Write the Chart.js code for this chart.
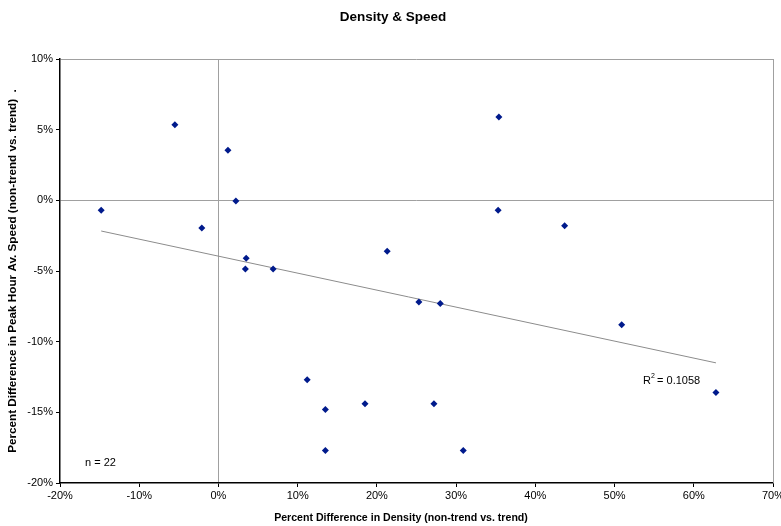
<!DOCTYPE html>
<html>
<head>
<meta charset="utf-8">
<script src="https://cdn.jsdelivr.net/npm/chart.js@4"></script>
<style>
  html, body { margin: 0; padding: 0; background: #fff; }
  #wrap { width: 781px; height: 526px; }
</style>
</head>
<body>
<div id="wrap"><canvas id="chartDensity" width="781" height="526"></canvas></div>
<script>
// Density & Speed scatter

// percent difference in density (x) and peak hour speed (y)
const densityPct = [-14.8, -5.5, 1.2, 2.2, -2.1, 3.5, 3.4, 6.9, 21.3, 35.4, 35.3, 43.7,
    25.3, 28.0, 50.9, 11.2, 13.5, 18.5, 27.2, 13.5, 30.9, 62.8];
const speedPct = [-0.7, 5.35, 3.55, -0.05, -1.95, -4.1, -4.85, -4.85, -3.6, 5.9, -0.7, -1.8,
    -7.2, -7.3, -8.8, -12.7, -14.8, -14.4, -14.4, -17.7, -17.7, -13.6];

// linear trend end points
const trendX = [-14.8, 62.8];
const trendY = [-2.17, -11.5];

const xTicks = [-20, -10, 0, 10, 20, 30, 40, 50, 60, 70];
const yTicks = [-20, -15, -10, -5, 0, 5, 10];

const fontFamily = "'Liberation Sans', Arial, sans-serif";

const points = densityPct.map((x, i) => ({ x: x, y: speedPct[i] }));
const trend = trendX.map((x, i) => ({ x: x, y: trendY[i] }));

const extras = {
    id: "extras",
    afterDraw(chart) {
        const ctx = chart.ctx;
        ctx.save();
        ctx.fillStyle = "#000";
        ctx.textBaseline = "middle";
        ctx.textAlign = "center";
        ctx.font = "bold 13.5px " + fontFamily;
        ctx.fillText("Density & Speed", 393, 17);

        ctx.font = "bold 10.6px " + fontFamily;
        ctx.fillText("Percent Difference in Density (non-trend vs. trend)", 401, 518);

        ctx.font = "11px " + fontFamily;
        ctx.textAlign = "left";
        ctx.fillText("n = 22", 85, 463);
        ctx.fillText("R", 643, 381);
        ctx.font = "7px " + fontFamily;
        ctx.fillText("2", 651, 376);
        ctx.font = "11px " + fontFamily;
        ctx.fillText(" = 0.1058", 654, 381);
        ctx.restore();
    },
};

// right border line of the plot area
const rightEdge = {
    id: "rightEdge",
    beforeDatasetsDraw(chart) {
        const a = chart.chartArea;
        const ctx = chart.ctx;
        ctx.save();
        ctx.strokeStyle = "#a0a0a0";
        ctx.lineWidth = 1;
        ctx.beginPath();
        ctx.moveTo(Math.round(a.right) + 0.5, a.top);
        ctx.lineTo(Math.round(a.right) + 0.5, a.bottom);
        ctx.stroke();
        ctx.restore();
    },
};

const lineColor = (ctx, maxVal) => {
    const v = ctx.tick ? ctx.tick.value : null;
    if (v === 0 || v === maxVal) return "#a0a0a0";
    return "rgba(0,0,0,0)";
};

const config = {
    type: "scatter",
    data: {
        datasets: [
            {
                label: "Density & Speed",
                data: points,
                pointStyle: "rectRot",
                pointRadius: 3.5,
                pointHoverRadius: 3.5,
                backgroundColor: "#001a8c",
                borderColor: "#001a8c",
                borderWidth: 0,
            },
            {
                label: "Trend",
                type: "line",
                data: trend,
                borderColor: "#8c8c8c",
                borderWidth: 1,
                pointRadius: 0,
                fill: false,
            },
        ],
    },
    options: {
        responsive: false,
        animation: false,
        devicePixelRatio: 1,
        layout: { padding: { top: 59, left: 0, right: 8, bottom: 0 } },
        plugins: {
            legend: { display: false },
            tooltip: { enabled: false },
        },
        scales: {
            x: {
                type: "linear",
                min: -20,
                max: 70,
                afterBuildTicks: (scale) => { scale.ticks = xTicks.map((v) => ({ value: v })); },
                afterFit: (scale) => {
                    scale.height = 43;
                    scale.paddingRight = 0;
                    scale.paddingLeft = 0;
                },
                border: { color: "#000", width: 1.5 },
                grid: {
                    color: (ctx) => lineColor(ctx, 70),
                    tickColor: "#000",
                    tickLength: 4,
                    lineWidth: 1,
                },
                ticks: {
                    color: "#000",
                    font: { family: fontFamily, size: 11 },
                    padding: 2,
                    maxRotation: 0,
                    callback: (v) => v + "%",
                },
            },
            y: {
                type: "linear",
                min: -20,
                max: 10,
                afterBuildTicks: (scale) => { scale.ticks = yTicks.map((v) => ({ value: v })); },
                afterFit: (scale) => { scale.width = 60; },
                border: { color: "#000", width: 1.5 },
                grid: {
                    color: (ctx) => lineColor(ctx, 10),
                    tickColor: "#000",
                    tickLength: 4,
                    lineWidth: 1,
                },
                ticks: {
                    color: "#000",
                    font: { family: fontFamily, size: 11 },
                    padding: 3,
                    callback: (v) => v + "%",
                },
                title: {
                    display: true,
                    text: "Percent Difference in Peak Hour Av. Speed (non-trend vs. trend)  .",
                    color: "#000",
                    font: { family: fontFamily, size: 11.7, weight: "bold" },
                    padding: { top: 6, bottom: 2 },
                },
            },
        },
    },
    plugins: [extras, rightEdge],
};

let ctx = document.getElementById("chartDensity");
let scatterChart = new Chart(ctx, config);
</script>
</body>
</html>
